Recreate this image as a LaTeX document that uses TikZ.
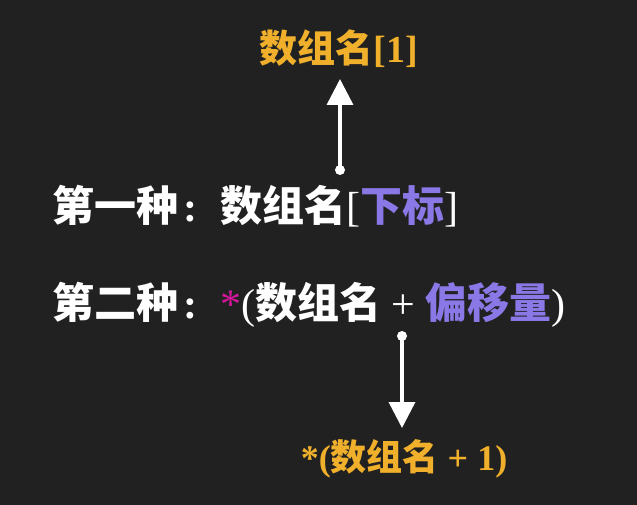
\documentclass[tikz,border=0pt]{standalone}
\usepackage{fontspec}
\setmainfont{Liberation Serif}
\newfontfamily\cjk{Noto Sans CJK SC}
\usetikzlibrary{arrows.meta}
\definecolor{bg}{HTML}{212121}
\definecolor{org}{HTML}{F0B02C}
\definecolor{pur}{HTML}{8A78E6}
\definecolor{mag}{HTML}{D4169A}
\newcommand\zh[1]{{\cjk\bfseries #1}}
\newcommand\lt[1]{{\mdseries #1}}
\newcommand\colonsp{\makebox[1em][l]{\hspace{0.12em}:}}
\tikzset{
  txt/.style={anchor=base, inner sep=0pt, font=\bfseries},
  arr/.style={draw=white, line width=3.5pt, -{Triangle[width=26pt,length=26pt]}},
  dot/.style={fill=white}
}
\begin{document}
\begin{tikzpicture}[x=1pt,y=-1pt]
\fill[bg] (0,0) rectangle (637,505);
\useasboundingbox (0,0) rectangle (637,505);
\node[txt, anchor=base west, text=white, font=\fontsize{42}{42}\selectfont\bfseries] (l1) at (52,222)
  {\zh{第一种}\colonsp\zh{数组名}\lt{[}\textcolor{pur}{\zh{下标}}\lt{]}};
\node[txt, anchor=base west, text=white, font=\fontsize{42}{42}\selectfont\bfseries] (l2) at (52,318)
  {\zh{第二种}\colonsp\textcolor{mag}{\lt{*}}\lt{(}\zh{数组名}\lt{ + }\textcolor{pur}{\zh{偏移量}}\lt{)}};
\node[txt, text=org, font=\fontsize{38}{38}\selectfont\bfseries] (top) at (339,63) {\zh{数组名}[1]};
\node[txt, text=org, font=\fontsize{36}{36}\selectfont\bfseries] (bot) at (404,470) {*(\zh{数组名} + 1)};
\coordinate (s1) at (340,170);
\coordinate (t1) at (340,79);
\coordinate (s2) at (402,336);
\coordinate (t2) at (402,428);
\fill[dot] (s1) circle (5);
\fill[dot] (s2) circle (5);
\draw[arr] (s1) -- (t1);
\draw[arr] (s2) -- (t2);
\end{tikzpicture}
\end{document}
